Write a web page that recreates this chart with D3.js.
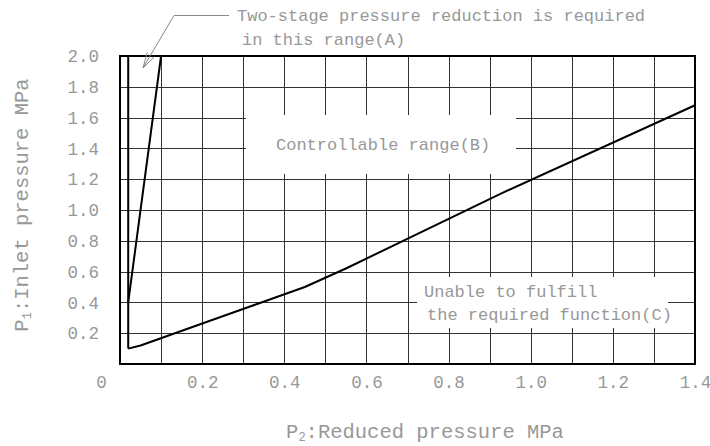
<!DOCTYPE html>
<html><head><meta charset="utf-8">
<script src="https://cdn.jsdelivr.net/npm/d3@7"></script>
<style>
html,body{margin:0;padding:0;background:#fff;}
svg{display:block;}
text{font-family:"Liberation Mono","DejaVu Sans Mono",monospace;fill:#989898;}
</style></head>
<body><svg id="chart" width="710" height="446"></svg>
<script>
// ---- data ----
const xTicks = [0, 0.2, 0.4, 0.6, 0.8, 1.0, 1.2, 1.4];
const yTicks = [0.2, 0.4, 0.6, 0.8, 1.0, 1.2, 1.4, 1.6, 1.8, 2.0];
const xGrid = [0.1,0.2,0.3,0.4,0.5,0.6,0.7,0.8,0.9,1.0,1.1,1.2,1.3];
const yGrid = [0.2,0.4,0.6,0.8,1.0,1.2,1.4,1.6,1.8];
// boundary A (vertical at min reduced pressure)
const lineVertical = [[0.02, 0.1], [0.02, 2.0]];
// boundary of two-stage range
const lineTwoStage = [[0.02, 0.4], [0.1, 2.0]];
// boundary of controllable range
const lineLimit = [[0.02, 0.1], [0.05, 0.12], [0.45, 0.5], [0.55, 0.62], [0.93, 1.11], [1.4, 1.68]];
const labelA = ["Two-stage pressure reduction is required", "in this range(A)"];
const labelB = "Controllable range(B)";
const labelC = ["Unable to fulfill", "the required function(C)"];

const svg = d3.select("#chart");
const x = d3.scaleLinear().domain([0, 1.4]).range([120, 695]);
const y = d3.scaleLinear().domain([0, 2.0]).range([364, 56]);

// grid
const grid = svg.append("g").attr("stroke", "#333").attr("stroke-width", 1);
grid.selectAll("line.v").data(xGrid).join("line")
  .attr("x1", d => Math.round(x(d)) + 0.5).attr("x2", d => Math.round(x(d)) + 0.5)
  .attr("y1", y(0)).attr("y2", y(2));
grid.selectAll("line.h").data(yGrid).join("line")
  .attr("y1", d => Math.round(y(d)) + 0.5).attr("y2", d => Math.round(y(d)) + 0.5)
  .attr("x1", x(0)).attr("x2", x(1.4));

// white label boxes
svg.append("rect").attr("x", 246).attr("y", 115).attr("width", 270).attr("height", 59).attr("fill", "#fff");
svg.append("rect").attr("x", 417).attr("y", 277).attr("width", 251).attr("height", 51).attr("fill", "#fff");

// data lines
const line = d3.line().x(d => x(d[0])).y(d => y(d[1]));
[lineVertical, lineTwoStage, lineLimit].forEach(pts => {
  svg.append("path").attr("d", line(pts)).attr("fill", "none")
    .attr("stroke", "#000").attr("stroke-width", 2).attr("stroke-linejoin", "round");
});

// frame
svg.append("rect").attr("x", x(0)).attr("y", y(2)).attr("width", x(1.4) - x(0)).attr("height", y(0) - y(2))
  .attr("fill", "none").attr("stroke", "#000").attr("stroke-width", 2);

// axes
const xAxis = svg.append("g").attr("transform", `translate(0,${y(0)})`)
  .call(d3.axisBottom(x).tickValues(xTicks).tickSize(0).tickPadding(12)
    .tickFormat(d => d === 0 ? "0" : d3.format(".1f")(d)));
xAxis.select(".domain").remove();
xAxis.selectAll("text").attr("font-size", 17.5).attr("fill", "#989898")
  .attr("font-family", "Liberation Mono, DejaVu Sans Mono, monospace")
  .attr("dx", d => d === 0 ? -19 : 0);

const yAxis = svg.append("g").attr("transform", `translate(${x(0)},0)`)
  .call(d3.axisLeft(y).tickValues(yTicks).tickSize(0).tickPadding(21).tickFormat(d3.format(".1f")));
yAxis.select(".domain").remove();
yAxis.selectAll("text").attr("font-size", 17.5).attr("fill", "#989898")
  .attr("font-family", "Liberation Mono, DejaVu Sans Mono, monospace");

// axis titles
const xt = svg.append("text").attr("x", 425).attr("y", 438).attr("text-anchor", "middle").attr("font-size", 20.5);
xt.append("tspan").text("P");
xt.append("tspan").text("2").attr("font-size", 12).attr("dy", 3);
xt.append("tspan").text(":Reduced pressure MPa").attr("dy", -3);

const yt = svg.append("text").attr("transform", "translate(28,205) rotate(-90)").attr("text-anchor", "middle").attr("font-size", 20.5);
yt.append("tspan").text("P");
yt.append("tspan").text("1").attr("font-size", 12).attr("dy", 3);
yt.append("tspan").text(":Inlet pressure MPa").attr("dy", -3);

// annotation A with leader
svg.append("text").attr("x", 237).attr("y", 21).attr("font-size", 17).text(labelA[0]);
svg.append("text").attr("x", 242).attr("y", 45).attr("font-size", 17).text(labelA[1]);
const tip = [143, 68], knee = [174, 15];
svg.append("path").attr("d", `M229,15.5 L${knee[0]},15.5 L${tip[0]},${tip[1]}`)
  .attr("fill", "none").attr("stroke", "#888").attr("stroke-width", 1);
{
  const dx = knee[0] - tip[0], dy = knee[1] - tip[1], L = Math.hypot(dx, dy);
  const ux = dx / L, uy = dy / L, a = 15 * Math.PI / 180, len = 16;
  const r = (ang) => [tip[0] + len * (ux * Math.cos(ang) - uy * Math.sin(ang)), tip[1] + len * (ux * Math.sin(ang) + uy * Math.cos(ang))];
  const p1 = r(a), p2 = r(-a);
  svg.append("path").attr("d", `M${p1[0]},${p1[1]} L${tip[0]},${tip[1]} L${p2[0]},${p2[1]}`)
    .attr("fill", "none").attr("stroke", "#888").attr("stroke-width", 1);
}

// annotation B
svg.append("text").attr("x", 276).attr("y", 150).attr("font-size", 17).text(labelB);
// annotation C
svg.append("text").attr("x", 424).attr("y", 297).attr("font-size", 17).text(labelC[0]);
svg.append("text").attr("x", 427).attr("y", 320).attr("font-size", 17).text(labelC[1]);
</script></body></html>
